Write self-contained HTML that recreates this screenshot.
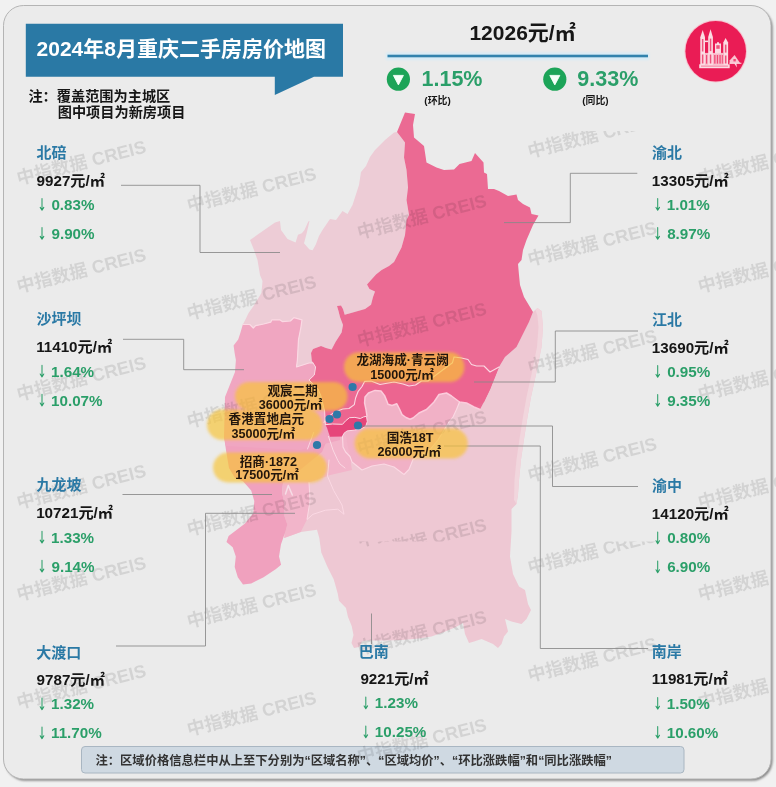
<!DOCTYPE html>
<html lang="zh-CN"><head><meta charset="utf-8"><title>2024年8月重庆二手房房价地图</title>
<style>
html,body{margin:0;padding:0;background:#f1f1f1}
body{width:776px;height:787px;overflow:hidden;position:relative;font-family:"Liberation Sans",sans-serif}
svg{position:absolute;left:0;top:0;display:block}
svg text{font-family:"Liberation Sans","Noto Sans CJK SC",sans-serif;font-weight:bold}
#tx span{position:absolute;white-space:nowrap;line-height:1.2;font-weight:bold;color:transparent;font-family:"Liberation Sans","Noto Sans CJK SC",sans-serif}
</style></head><body>
<svg width="776" height="787" viewBox="0 0 776 787">
<defs>
<filter id="soft" x="-10%" y="-20%" width="120%" height="140%"><feGaussianBlur stdDeviation="1.6"/></filter>
<filter id="sh" x="-5%" y="-5%" width="110%" height="110%"><feGaussianBlur stdDeviation="0.9"/></filter>
<filter id="glow" x="-5%" y="-300%" width="110%" height="700%"><feGaussianBlur stdDeviation="1.3"/></filter>
<filter id="ba" x="0" y="0" width="776" height="787" filterUnits="userSpaceOnUse"><feGaussianBlur stdDeviation="0.45"/></filter>
<clipPath id="cu"><rect x="0" y="131" width="776" height="410.5"/></clipPath>
<clipPath id="cl"><rect x="0" y="541.5" width="776" height="237"/></clipPath>
<clipPath id="card"><rect x="3.5" y="5.5" width="767.5" height="773.5" rx="20"/></clipPath>
<g id="wm" transform="rotate(-14.3) translate(-63.78,6.52)"><text x="0" y="0" font-size="18.1">中指数据 CREIS</text></g>
</defs>
<rect width="776" height="787" fill="#f1f1f1"/>
<g filter="url(#ba)">
<rect x="5" y="7.2" width="767.6" height="773.6" rx="20.5" fill="#868686" filter="url(#sh)"/>
<rect x="3.5" y="5.5" width="767.5" height="773.5" rx="20" fill="#ebebeb" stroke="#b4b4b4" stroke-width="1"/>
<path d="M25.8,23.8 H343 V76.8 H314 L274.8,95 V76.8 H25.8 Z" fill="#2b79a5"/>
<rect x="386" y="52.5" width="263" height="7.5" fill="#d6ecf7" filter="url(#glow)"/>
<rect x="387.5" y="54.7" width="260.5" height="2.6" fill="#3383ad"/>
<circle cx="398.4" cy="79.2" r="11.6" fill="#1fa458"/>
<path d="M393.4,75.4 H403.4 L398.4,84.9 Z" fill="#f4fff8" stroke="#f4fff8" stroke-width="0.9" stroke-linejoin="round"/>
<circle cx="554.8" cy="79.2" r="11.6" fill="#1fa458"/>
<path d="M549.8,75.4 H559.8 L554.8,84.9 Z" fill="#f4fff8" stroke="#f4fff8" stroke-width="0.9" stroke-linejoin="round"/>
<g>
<circle cx="715.7" cy="51.2" r="31.3" fill="#f6c3d0"/>
<circle cx="715.7" cy="51.2" r="30.3" fill="#ea1f55"/>
<g fill="#fcdbe3">
<path d="M702.7,30 L705,37.3 V65.8 H700.3 V37.3 Z"/>
<path d="M710.5,29.3 L712.9,37 V65.8 H708.2 V37 Z"/>
<path d="M725.6,38 L728.1,42.6 V65.8 H723.3 V42.6 Z"/>
<rect x="705" y="40.6" width="3.2" height="1.5"/>
<path d="M715,43.5 H717 V42.3 H719 V43.5 H721 V53.5 H715 Z"/>
<rect x="705" y="52.9" width="18.3" height="11.8" fill-opacity="0.82"/>
<rect x="699.2" y="64.3" width="30.5" height="3.9"/>
<path d="M734.6,55 L740.4,63.4 H729.6 V60.6 Z" fill-opacity="0.88"/>
<path d="M729.4,62.7 H741.4 V63.7 H736.4 L737,67.6 L734.4,63.7 H729.4 Z"/>
</g>
<g fill="#ea1f55" fill-opacity="0.72">
<rect x="701.9" y="39" width="1.5" height="12.5"/><rect x="709.8" y="38.6" width="1.5" height="12.5"/>
<rect x="701.9" y="54.5" width="1.5" height="9"/><rect x="709.8" y="54.5" width="1.5" height="9"/>
<rect x="716.3" y="45.2" width="3.4" height="3.6"/>
<rect x="724.9" y="44.6" width="1.6" height="8"/><rect x="724.9" y="55.5" width="1.6" height="8"/>
<rect x="706" y="55" width="1.2" height="8.6"/><rect x="714.2" y="55" width="1.3" height="8.6"/>
<rect x="716.8" y="55" width="1.3" height="8.6"/><rect x="719.4" y="55" width="1.3" height="8.6"/><rect x="721.8" y="55" width="1" height="8.6"/>
<rect x="733.4" y="59" width="2.4" height="2.4"/>
<rect x="701" y="65.6" width="27" height="1" fill-opacity="0.5"/>
</g>
</g>
<g>
<path d="M480.0,409.5 L484.0,402.0 L490.0,389.5 L494.0,379.5 L499.0,367.0 L505.0,357.0 L516.5,347.0 L521.5,337.0 L529.0,322.0 L533.0,312.0 L537.5,308.0 L541.5,311.0 L543.0,327.0 L541.5,347.0 L536.5,372.0 L531.0,397.0 L527.5,417.0 L524.3,437.0 L521.0,459.5 L519.0,480.0 L518.0,494.0 L516.5,504.0 L511.5,509.0 L511.5,531.5 L510.0,556.5 L513.0,574.0 L519.0,586.5 L525.0,590.0 L528.0,604.0 L531.0,610.0 L526.5,619.0 L521.5,624.0 L511.5,621.5 L505.0,619.0 L508.0,631.5 L504.0,636.5 L501.5,644.0 L498.0,648.0 L493.0,644.0 L481.5,639.0 L474.0,641.5 L469.0,643.0 L465.0,634.0 L463.0,623.0 L456.0,627.0 L444.0,632.0 L431.5,636.5 L419.0,638.5 L402.0,640.0 L384.0,640.5 L366.0,640.5 L362.0,641.5 L359.0,647.0 L354.0,648.0 L351.5,643.0 L353.5,635.0 L351.7,626.0 L348.0,617.0 L346.0,608.0 L339.0,600.8 L337.8,593.7 L333.7,579.3 L327.5,567.0 L321.3,552.5 L319.3,538.0 L317.0,529.8 L300.7,531.9 L284.2,538.0 L283.0,483.0 L300.0,470.0 L329.0,460.0 L340.0,436.0 L367.0,416.0 L440.0,390.0 L476.0,402.0Z" fill="#eec8d3"/>
<path d="M535.5,310.0 L537.5,308.0 L541.5,311.0 L543.0,327.0 L541.5,347.0 L536.5,372.0 L531.0,397.0 L527.5,417.0 L524.3,437.0 L521.0,459.5 L519.0,480.0 L518.0,494.0 L516.5,504.0 L514.0,500.0 L514.5,480.0 L516.5,459.5 L519.8,437.0 L523.0,417.0 L526.5,397.0 L532.0,372.0 L537.0,347.0 L538.5,327.0 L537.5,316.0Z" fill="#f1d6dd"/>
<path d="M327.0,428.0 L367.0,414.0 L364.6,403.0 L365.0,397.0 L368.5,393.0 L375.0,390.4 L381.0,391.0 L384.6,395.6 L387.2,402.0 L388.0,404.3 L392.0,405.5 L396.8,403.8 L399.5,409.0 L402.0,414.6 L406.0,417.5 L410.0,419.2 L413.0,418.0 L419.0,413.0 L426.5,409.5 L434.0,402.0 L439.0,394.5 L446.5,393.0 L451.5,396.0 L459.5,402.0 L456.5,409.5 L453.0,417.0 L449.0,422.0 L444.0,430.0 L438.0,440.0 L428.0,452.0 L413.0,459.5 L409.0,469.5 L404.0,474.5 L394.0,467.0 L384.0,464.0 L372.0,466.0 L362.0,470.0 L352.0,462.0 L350.0,456.5 L345.6,452.0 L343.0,447.0 L342.5,436.4 L330.0,436.7Z" fill="#f1b1c6"/>
<path d="M300.0,430.0 L345.0,430.0 L352.0,470.0 L283.0,486.0Z" fill="#f2b5ca"/>
<path d="M328.5,436.4 L342.5,436.4 L343.0,447.0 L345.6,452.0 L350.0,456.5 L352.0,462.0 L345.0,468.0 L340.0,464.0 L337.8,460.4 L333.0,450.0Z" fill="#f2b5ca"/>
<path d="M283.0,483.0 L296.0,470.0 L309.0,452.0 L320.0,448.0 L329.0,460.0 L327.5,476.0 L309.0,482.4 L310.0,501.0 L307.0,519.5 L300.7,531.9 L284.2,538.0 L285.3,531.9 L287.3,524.6 L284.2,515.4 L284.2,503.0 L282.2,492.7Z" fill="#f2b5ca"/>
<path d="M224.0,437.0 L300.0,430.0 L328.5,436.5 L322.0,452.0 L300.0,470.0 L283.0,483.0 L282.2,492.7 L284.2,503.0 L284.2,515.4 L287.3,524.6 L285.3,531.9 L281.0,544.2 L279.0,556.6 L281.1,564.8 L276.0,569.0 L263.6,577.2 L251.2,583.4 L243.0,584.4 L237.8,577.2 L234.7,567.0 L235.8,556.6 L232.7,547.3 L226.5,542.0 L228.6,536.0 L245.0,523.6 L253.3,513.3 L254.3,501.0 L251.2,490.6 L243.0,481.3 L235.0,478.0 L229.0,468.0 L226.0,450.0Z" fill="#f0a1be"/>
<path d="M242.8,324.5 L249.8,324.5 L253.3,328.0 L255.6,325.7 L263.7,324.0 L270.7,322.2 L271.8,319.9 L280.0,319.9 L282.3,321.6 L290.4,321.0 L293.9,317.6 L302.0,319.9 L300.8,328.0 L298.5,339.6 L297.4,360.0 L296.5,367.0 L309.0,363.0 L313.0,363.0 L340.0,390.0 L340.0,440.0 L300.0,450.0 L226.0,446.0 L224.0,437.0 L225.0,397.0 L230.0,384.5 L235.0,372.0 L235.9,360.0 L234.7,353.5 L233.6,345.4 L238.2,339.6 L240.5,332.6Z" fill="#f0a6c1"/>
<path d="M397.0,132.0 L394.0,132.5 L385.0,140.0 L375.0,150.0 L370.0,157.0 L366.0,166.0 L361.0,172.0 L359.0,185.0 L352.5,205.0 L347.5,214.0 L342.5,211.0 L336.0,220.0 L330.0,219.0 L322.5,230.0 L319.0,236.0 L315.7,244.8 L312.6,250.2 L309.5,249.5 L304.0,243.3 L306.5,234.0 L309.5,221.0 L308.3,221.5 L304.5,230.0 L301.8,233.2 L298.0,234.8 L295.6,242.5 L287.5,239.0 L281.0,230.0 L280.0,221.0 L275.0,222.5 L250.0,240.0 L254.0,250.0 L257.5,260.0 L260.0,275.0 L262.5,281.0 L261.4,293.0 L254.4,304.8 L248.6,313.0 L245.2,320.0 L242.8,324.5 L249.8,324.5 L253.3,328.0 L255.6,325.7 L263.7,324.0 L270.7,322.2 L271.8,319.9 L280.0,319.9 L282.3,321.6 L290.4,321.0 L293.9,317.6 L302.0,319.9 L300.8,328.0 L298.5,339.6 L297.4,360.0 L296.5,367.0 L309.0,363.0 L313.0,363.0 L311.8,360.8 L311.0,353.0 L313.0,349.0 L321.0,346.0 L326.0,348.0 L331.6,349.5 L335.5,342.0 L341.6,332.5 L343.0,325.0 L340.0,317.0 L338.5,311.0 L337.0,306.0 L341.0,305.5 L343.0,309.0 L344.7,314.8 L351.0,313.0 L365.0,309.0 L371.0,304.7 L373.0,297.0 L375.0,291.6 L369.5,289.0 L367.0,284.6 L371.0,280.0 L376.0,274.5 L381.6,270.0 L389.0,266.0 L394.0,262.0 L401.5,247.5 L405.0,235.0 L406.5,220.0 L409.0,215.0 L406.5,200.0 L408.0,187.5 L406.5,170.0 L404.0,157.5 L405.0,142.5 L397.0,132.0Z" fill="#edccd6"/>
<path d="M397.0,132.0 L405.0,112.5 L415.0,114.0 L413.0,125.0 L414.0,137.5 L424.0,146.0 L426.5,162.5 L436.5,167.5 L444.0,170.0 L454.0,169.5 L459.5,164.0 L471.5,161.0 L475.0,153.0 L483.5,162.5 L484.0,172.5 L487.0,174.0 L488.0,189.0 L494.0,189.0 L499.0,191.0 L508.0,196.0 L516.5,194.5 L518.0,200.0 L523.0,204.0 L530.0,207.5 L531.5,214.0 L538.5,215.5 L533.0,225.0 L526.5,240.0 L523.0,250.0 L521.5,260.0 L518.0,264.0 L519.0,275.0 L520.0,285.0 L524.0,297.0 L530.0,307.0 L533.0,312.0 L529.0,322.0 L521.5,337.0 L516.5,347.0 L505.0,357.0 L499.0,367.0 L494.0,379.5 L490.0,389.5 L484.0,402.0 L480.0,409.5 L474.0,407.0 L466.5,403.0 L459.5,402.0 L451.5,396.0 L446.5,393.0 L439.0,394.5 L434.0,402.0 L426.5,409.5 L419.0,413.0 L413.0,418.0 L410.0,419.2 L406.0,417.5 L402.0,414.6 L399.5,409.0 L396.8,403.8 L392.0,405.5 L388.0,404.3 L387.2,402.0 L384.6,395.6 L381.0,391.0 L375.0,390.4 L368.5,393.0 L365.0,397.0 L364.6,403.0 L366.0,409.7 L367.0,416.0 L363.4,417.0 L360.3,418.5 L354.9,417.4 L349.5,417.7 L345.6,420.8 L342.5,424.3 L332.4,424.0 L325.4,424.7 L324.6,411.0 L320.8,395.6 L318.0,389.0 L309.0,380.0 L314.3,375.0 L315.6,367.0 L311.8,360.8 L311.0,353.0 L313.0,349.0 L321.0,346.0 L326.0,348.0 L331.6,349.5 L335.5,342.0 L341.6,332.5 L343.0,325.0 L340.0,317.0 L338.5,311.0 L337.0,306.0 L341.0,305.5 L343.0,309.0 L344.7,314.8 L351.0,313.0 L365.0,309.0 L371.0,304.7 L373.0,297.0 L375.0,291.6 L369.5,289.0 L367.0,284.6 L371.0,280.0 L376.0,274.5 L381.6,270.0 L389.0,266.0 L394.0,262.0 L401.5,247.5 L405.0,235.0 L406.5,220.0 L409.0,215.0 L406.5,200.0 L408.0,187.5 L406.5,170.0 L404.0,157.5 L405.0,142.5 L397.0,132.0Z" fill="#eb6a93"/>
<path d="M499.0,367.0 L490.0,372.0 L484.0,366.0 L476.5,366.0 L471.5,364.5 L468.0,359.5 L461.5,358.0 L454.0,357.0 L452.5,362.7 L440.0,372.0 L428.0,381.0 L421.5,381.0 L415.5,385.0 L409.0,386.0 L403.0,384.0 L394.0,382.0 L380.0,384.5 L371.0,381.0 L364.6,381.4 L362.0,386.5 L358.0,391.7 L355.6,398.0 L354.3,404.6 L349.0,408.5 L342.7,409.0 L337.5,411.0 L332.4,413.6 L326.0,418.8 L325.4,424.7 L332.4,424.0 L342.5,424.3 L345.6,420.8 L349.5,417.7 L354.9,417.4 L360.3,418.5 L363.4,417.0 L367.0,416.0 L366.0,409.7 L364.6,403.0 L365.0,397.0 L368.5,393.0 L375.0,390.4 L381.0,391.0 L384.6,395.6 L387.2,402.0 L388.0,404.3 L392.0,405.5 L396.8,403.8 L399.5,409.0 L402.0,414.6 L406.0,417.5 L410.0,419.2 L413.0,418.0 L419.0,413.0 L426.5,409.5 L434.0,402.0 L439.0,394.5 L446.5,393.0 L451.5,396.0 L459.5,402.0 L466.5,403.0 L474.0,407.0 L484.0,402.0 L490.0,389.5 L494.0,379.5Z" fill="#ec6590"/>
<path d="M325.4,424.7 L332.4,424.0 L342.5,424.3 L345.6,420.8 L349.5,417.7 L354.9,417.4 L360.3,418.5 L363.4,417.0 L366.5,416.2 L367.3,421.6 L365.7,426.3 L361.9,428.6 L354.1,430.2 L347.1,430.9 L344.0,433.3 L342.5,436.4 L330.0,436.7 L328.5,432.5 L327.0,427.8Z" fill="#e6447a"/>
<path d="M499.0,367.0 L490.0,372.0 L484.0,366.0 L476.5,366.0 L471.5,364.5 L468.0,359.5 L461.5,358.0 L454.0,357.0 L452.5,362.7 L440.0,372.0 L428.0,381.0 L421.5,381.0 L415.5,385.0 L409.0,386.0 L403.0,384.0 L394.0,382.0 L380.0,384.5 L371.0,381.0 L364.6,381.4 L362.0,386.5 L358.0,391.7 L355.6,398.0 L354.3,404.6 L349.0,408.5 L342.7,409.0 L337.5,411.0 L332.4,413.6 L326.0,418.8 L324.0,422.6" fill="none" stroke="#fbd9e4" stroke-width="1.1" stroke-linejoin="round" stroke-linecap="round"/>
<path d="M325.4,424.7 L332.4,424.0 L342.5,424.3 L345.6,420.8 L349.5,417.7 L354.9,417.4 L360.3,418.5 L363.4,417.0 L366.5,416.2 L367.3,421.6 L365.7,426.3 L361.9,428.6 L354.1,430.2 L347.1,430.9 L344.0,433.3 L342.5,436.4" fill="none" stroke="#fbd9e4" stroke-width="1.0" stroke-linejoin="round" stroke-linecap="round"/>
<path d="M480.0,409.5 L474.0,407.0 L466.5,403.0 L459.5,402.0 L451.5,396.0 L446.5,393.0 L439.0,394.5 L434.0,402.0 L426.5,409.5 L419.0,413.0 L413.0,418.0 L410.0,419.2 L406.0,417.5 L402.0,414.6 L399.5,409.0 L396.8,403.8 L392.0,405.5 L388.0,404.3 L387.2,402.0 L384.6,395.6 L381.0,391.0 L375.0,390.4 L368.5,393.0 L365.0,397.0 L364.6,403.0 L366.0,409.7 L367.0,416.0" fill="none" stroke="#fcccdc" stroke-width="1.5" stroke-linejoin="round" stroke-linecap="round"/>
<path d="M459.5,402.0 L456.5,409.5 L453.0,417.0 L449.0,422.0 L444.0,430.0 L438.0,440.0 L428.0,452.0 L413.0,459.5 L409.0,469.5 L404.0,474.5 L394.0,467.0 L384.0,464.0 L372.0,466.0 L362.0,470.0 L352.0,462.0 L350.0,456.5 L345.6,452.0 L343.0,447.0 L342.5,436.4" fill="none" stroke="#fbd9e4" stroke-width="1.1" stroke-linejoin="round" stroke-linecap="round"/>
<path d="M328.5,436.4 L333.0,450.0 L337.8,460.4 L340.0,464.0 L345.0,468.0" fill="none" stroke="#fbd9e4" stroke-width="1.0" stroke-linejoin="round" stroke-linecap="round"/>
<path d="M242.8,324.5 L249.8,324.5 L253.3,328.0 L255.6,325.7 L263.7,324.0 L270.7,322.2 L271.8,319.9 L280.0,319.9 L282.3,321.6 L290.4,321.0 L293.9,317.6 L302.0,319.9 L300.8,328.0 L298.5,339.6 L297.4,360.0 L296.5,367.0 L309.0,363.0 L313.0,363.0" fill="none" stroke="#fbd9e4" stroke-width="1.2" stroke-linejoin="round" stroke-linecap="round"/>
<path d="M313.0,363.0 L315.6,367.0 L314.3,375.0 L309.0,380.0 L318.0,389.0 L320.8,395.6 L324.6,411.0 L325.4,424.7" fill="none" stroke="#fbd9e4" stroke-width="1.0" stroke-linejoin="round" stroke-linecap="round"/>
<path d="M309.0,482.4 L310.0,501.0 L307.0,519.5 L313.0,514.3 L325.5,510.2 L337.8,509.2 L344.0,514.3 L342.0,505.0 L333.7,490.6 L327.5,476.2 L329.0,460.0" fill="none" stroke="#fbd9e4" stroke-width="1.0" stroke-linejoin="round" stroke-linecap="round"/>
<path d="M307.5,449.0 L313.7,432.4" fill="none" stroke="#fbd9e4" stroke-width="0.9" stroke-linejoin="round" stroke-linecap="round"/>
<path d="M285.5,494.0 L288.3,485.5 L292.3,495.0" fill="none" stroke="#f6dde6" stroke-width="1.5" stroke-linejoin="round" stroke-linecap="round"/>
</g>
<rect x="81.5" y="746.5" width="602.5" height="26.5" rx="3.5" fill="#cfd9e2" stroke="#a9b6c2" stroke-width="1"/>
<g fill="#000" fill-opacity="0.1"><g clip-path="url(#cu)"><use href="#wm" x="78.7" y="163.0"/><use href="#wm" x="78.7" y="271.0"/><use href="#wm" x="78.7" y="379.0"/><use href="#wm" x="78.7" y="487.0"/><use href="#wm" x="249.0" y="190.0"/><use href="#wm" x="249.0" y="298.0"/><use href="#wm" x="249.0" y="406.0"/><use href="#wm" x="249.0" y="514.0"/><use href="#wm" x="419.3" y="217.0"/><use href="#wm" x="419.3" y="325.0"/><use href="#wm" x="419.3" y="433.0"/><use href="#wm" x="419.3" y="541.0"/><use href="#wm" x="589.6" y="136.0"/><use href="#wm" x="589.6" y="244.0"/><use href="#wm" x="589.6" y="352.0"/><use href="#wm" x="589.6" y="460.0"/><use href="#wm" x="589.6" y="568.0"/><use href="#wm" x="759.9" y="163.0"/><use href="#wm" x="759.9" y="271.0"/><use href="#wm" x="759.9" y="379.0"/><use href="#wm" x="759.9" y="487.0"/></g><g clip-path="url(#cl)"><g clip-path="url(#card)"><use href="#wm" x="78.7" y="579.0"/><use href="#wm" x="78.7" y="687.0"/><use href="#wm" x="249.0" y="606.0"/><use href="#wm" x="249.0" y="714.0"/><use href="#wm" x="419.3" y="525.0"/><use href="#wm" x="419.3" y="633.0"/><use href="#wm" x="419.3" y="741.0"/><use href="#wm" x="589.6" y="552.0"/><use href="#wm" x="589.6" y="660.0"/><use href="#wm" x="759.9" y="579.0"/><use href="#wm" x="759.9" y="687.0"/></g></g></g>
<path d="M121.0,185.3 L200.0,185.3 L200.0,252.5 L280.0,252.5" fill="none" stroke="#888888" stroke-width="0.85"/>
<path d="M123.0,339.3 L183.7,339.3 L183.7,369.7 L244.0,369.7" fill="none" stroke="#888888" stroke-width="0.85"/>
<path d="M122.5,494.5 L272.0,494.5" fill="none" stroke="#888888" stroke-width="0.85"/>
<path d="M116.0,646.0 L205.5,646.0 L205.5,513.3 L295.0,513.3" fill="none" stroke="#888888" stroke-width="0.85"/>
<path d="M504.0,222.6 L570.3,222.6 L570.3,173.3 L637.3,173.3" fill="none" stroke="#888888" stroke-width="0.85"/>
<path d="M474.0,382.0 L555.3,382.0 L555.3,331.0 L638.0,331.0" fill="none" stroke="#888888" stroke-width="0.85"/>
<path d="M358.0,426.0 L552.5,426.0 L552.5,486.5 L638.0,486.5" fill="none" stroke="#888888" stroke-width="0.85"/>
<path d="M444.0,446.0 L540.3,446.0 L540.3,648.5 L648.0,648.5" fill="none" stroke="#888888" stroke-width="0.85"/>
<path d="M371.5,613.5 L371.5,644.0" fill="none" stroke="#888888" stroke-width="0.85"/>
<rect x="235.0" y="382.0" width="112.5" height="28.5" rx="14.2" fill="#f8c435" fill-opacity="0.67" filter="url(#soft)"/>
<rect x="207.0" y="409.5" width="115.5" height="30.5" rx="15.2" fill="#f8c435" fill-opacity="0.67" filter="url(#soft)"/>
<rect x="213.0" y="452.5" width="114.0" height="30.0" rx="15.0" fill="#f8c435" fill-opacity="0.67" filter="url(#soft)"/>
<rect x="344.0" y="352.2" width="120.4" height="29.8" rx="14.9" fill="#f8c435" fill-opacity="0.67" filter="url(#soft)"/>
<rect x="354.6" y="428.3" width="113.2" height="30.2" rx="15.1" fill="#f8c435" fill-opacity="0.67" filter="url(#soft)"/>
<circle cx="352.6" cy="387.0" r="4.1" fill="#2f79a8"/>
<circle cx="337.0" cy="414.5" r="4.1" fill="#2f79a8"/>
<circle cx="329.5" cy="419.0" r="4.1" fill="#2f79a8"/>
<circle cx="358.0" cy="425.5" r="4.1" fill="#2f79a8"/>
<circle cx="317.0" cy="445.0" r="4.1" fill="#2f79a8"/>
<text x="36.59" y="56.30" font-size="21" fill="#ffffff">2024年8月重庆二手房房价地图</text>
<text x="28.39" y="100.80" font-size="14.2" fill="#141414">注：覆盖范围为主城区</text>
<text x="57.74" y="117.40" font-size="14.2" fill="#141414">图中项目为新房项目</text>
<text x="469.45" y="40.40" font-size="21" fill="#141414">12026元/㎡</text>
<text x="421.50" y="86.28" font-size="21.5" fill="#2c9f69">1.15%</text>
<text x="577.29" y="86.28" font-size="21.5" fill="#2c9f69">9.33%</text>
<text x="424.35" y="103.93" font-size="9.9" fill="#141414">(环比)</text>
<text x="582.34" y="103.93" font-size="9.9" fill="#141414">(同比)</text>
<text x="36.51" y="157.70" font-size="15" fill="#2b79a5">北碚</text>
<text x="36.59" y="185.63" font-size="15.2" fill="#141414">9927元/㎡</text>
<path d="M42.0,198.6 V210.1 M40.2,207.4 L42.0,210.3 L43.8,207.4" fill="none" stroke="#2c9f69" stroke-width="1.05" stroke-linecap="round" stroke-linejoin="round"/>
<text x="51.43" y="209.93" font-size="15.2" fill="#2c9f69">0.83%</text>
<path d="M42.0,227.6 V239.1 M40.2,236.4 L42.0,239.3 L43.8,236.4" fill="none" stroke="#2c9f69" stroke-width="1.05" stroke-linecap="round" stroke-linejoin="round"/>
<text x="51.49" y="238.93" font-size="15.2" fill="#2c9f69">9.90%</text>
<text x="36.45" y="324.30" font-size="15" fill="#2b79a5">沙坪坝</text>
<text x="36.16" y="352.23" font-size="15.2" fill="#141414">11410元/㎡</text>
<path d="M42.0,365.2 V376.7 M40.2,374.0 L42.0,376.9 L43.8,374.0" fill="none" stroke="#2c9f69" stroke-width="1.05" stroke-linecap="round" stroke-linejoin="round"/>
<text x="51.06" y="376.53" font-size="15.2" fill="#2c9f69">1.64%</text>
<path d="M42.0,394.2 V405.7 M40.2,403.0 L42.0,405.9 L43.8,403.0" fill="none" stroke="#2c9f69" stroke-width="1.05" stroke-linecap="round" stroke-linejoin="round"/>
<text x="51.06" y="405.53" font-size="15.2" fill="#2c9f69">10.07%</text>
<text x="36.48" y="490.40" font-size="15" fill="#2b79a5">九龙坡</text>
<text x="36.16" y="518.33" font-size="15.2" fill="#141414">10721元/㎡</text>
<path d="M42.0,531.3 V542.8 M40.2,540.1 L42.0,543.0 L43.8,540.1" fill="none" stroke="#2c9f69" stroke-width="1.05" stroke-linecap="round" stroke-linejoin="round"/>
<text x="51.06" y="542.63" font-size="15.2" fill="#2c9f69">1.33%</text>
<path d="M42.0,560.3 V571.8 M40.2,569.1 L42.0,572.0 L43.8,569.1" fill="none" stroke="#2c9f69" stroke-width="1.05" stroke-linecap="round" stroke-linejoin="round"/>
<text x="51.49" y="571.63" font-size="15.2" fill="#2c9f69">9.14%</text>
<text x="36.24" y="657.50" font-size="15" fill="#2b79a5">大渡口</text>
<text x="36.59" y="684.73" font-size="15.2" fill="#141414">9787元/㎡</text>
<path d="M42.0,697.9 V709.4 M40.2,706.7 L42.0,709.6 L43.8,706.7" fill="none" stroke="#2c9f69" stroke-width="1.05" stroke-linecap="round" stroke-linejoin="round"/>
<text x="51.06" y="709.23" font-size="15.2" fill="#2c9f69">1.32%</text>
<path d="M42.0,726.9 V738.4 M40.2,735.7 L42.0,738.6 L43.8,735.7" fill="none" stroke="#2c9f69" stroke-width="1.05" stroke-linecap="round" stroke-linejoin="round"/>
<text x="51.06" y="738.23" font-size="15.2" fill="#2c9f69">11.70%</text>
<text x="652.09" y="157.70" font-size="15" fill="#2b79a5">渝北</text>
<text x="651.86" y="185.63" font-size="15.2" fill="#141414">13305元/㎡</text>
<path d="M657.7,198.6 V210.1 M656.0,207.4 L657.7,210.3 L659.5,207.4" fill="none" stroke="#2c9f69" stroke-width="1.05" stroke-linecap="round" stroke-linejoin="round"/>
<text x="666.76" y="209.93" font-size="15.2" fill="#2c9f69">1.01%</text>
<path d="M657.7,227.6 V239.1 M656.0,236.4 L657.7,239.3 L659.5,236.4" fill="none" stroke="#2c9f69" stroke-width="1.05" stroke-linecap="round" stroke-linejoin="round"/>
<text x="667.15" y="238.93" font-size="15.2" fill="#2c9f69">8.97%</text>
<text x="651.99" y="324.70" font-size="15" fill="#2b79a5">江北</text>
<text x="651.86" y="352.63" font-size="15.2" fill="#141414">13690元/㎡</text>
<path d="M657.7,365.6 V377.1 M656.0,374.4 L657.7,377.3 L659.5,374.4" fill="none" stroke="#2c9f69" stroke-width="1.05" stroke-linecap="round" stroke-linejoin="round"/>
<text x="667.13" y="376.93" font-size="15.2" fill="#2c9f69">0.95%</text>
<path d="M657.7,394.6 V406.1 M656.0,403.4 L657.7,406.3 L659.5,403.4" fill="none" stroke="#2c9f69" stroke-width="1.05" stroke-linecap="round" stroke-linejoin="round"/>
<text x="667.19" y="405.93" font-size="15.2" fill="#2c9f69">9.35%</text>
<text x="652.08" y="491.10" font-size="15" fill="#2b79a5">渝中</text>
<text x="651.86" y="519.03" font-size="15.2" fill="#141414">14120元/㎡</text>
<path d="M657.7,532.0 V543.5 M656.0,540.8 L657.7,543.7 L659.5,540.8" fill="none" stroke="#2c9f69" stroke-width="1.05" stroke-linecap="round" stroke-linejoin="round"/>
<text x="667.13" y="543.33" font-size="15.2" fill="#2c9f69">0.80%</text>
<path d="M657.7,561.0 V572.5 M656.0,569.8 L657.7,572.7 L659.5,569.8" fill="none" stroke="#2c9f69" stroke-width="1.05" stroke-linecap="round" stroke-linejoin="round"/>
<text x="667.15" y="572.33" font-size="15.2" fill="#2c9f69">6.90%</text>
<text x="651.66" y="657.00" font-size="15" fill="#2b79a5">南岸</text>
<text x="651.86" y="684.23" font-size="15.2" fill="#141414">11981元/㎡</text>
<path d="M657.7,697.4 V708.9 M656.0,706.2 L657.7,709.1 L659.5,706.2" fill="none" stroke="#2c9f69" stroke-width="1.05" stroke-linecap="round" stroke-linejoin="round"/>
<text x="666.76" y="708.73" font-size="15.2" fill="#2c9f69">1.50%</text>
<path d="M657.7,726.4 V737.9 M656.0,735.2 L657.7,738.1 L659.5,735.2" fill="none" stroke="#2c9f69" stroke-width="1.05" stroke-linecap="round" stroke-linejoin="round"/>
<text x="666.76" y="737.73" font-size="15.2" fill="#2c9f69">10.60%</text>
<text x="358.79" y="656.70" font-size="15" fill="#2b79a5">巴南</text>
<text x="360.39" y="683.93" font-size="15.2" fill="#141414">9221元/㎡</text>
<path d="M365.8,697.1 V708.6 M364.1,705.9 L365.8,708.8 L367.6,705.9" fill="none" stroke="#2c9f69" stroke-width="1.05" stroke-linecap="round" stroke-linejoin="round"/>
<text x="374.86" y="708.43" font-size="15.2" fill="#2c9f69">1.23%</text>
<path d="M365.8,726.1 V737.6 M364.1,734.9 L365.8,737.8 L367.6,734.9" fill="none" stroke="#2c9f69" stroke-width="1.05" stroke-linecap="round" stroke-linejoin="round"/>
<text x="374.86" y="737.43" font-size="15.2" fill="#2c9f69">10.25%</text>
<text x="267.48" y="394.79" font-size="12.6" fill="#24170c">观宸二期</text>
<text x="258.70" y="408.80" font-size="12.6" fill="#24170c">36000元/㎡</text>
<text x="228.60" y="423.49" font-size="12.6" fill="#24170c">香港置地启元</text>
<text x="231.49" y="437.70" font-size="12.6" fill="#24170c">35000元/㎡</text>
<text x="239.73" y="465.70" font-size="12.6" fill="#24170c">招商·1872</text>
<text x="235.20" y="479.20" font-size="12.6" fill="#24170c">17500元/㎡</text>
<text x="356.39" y="364.09" font-size="12.6" fill="#24170c">龙湖海成·青云阙</text>
<text x="370.15" y="378.80" font-size="12.6" fill="#24170c">15000元/㎡</text>
<text x="386.63" y="441.50" font-size="12.6" fill="#24170c">国浩18T</text>
<text x="377.50" y="455.80" font-size="12.6" fill="#24170c">26000元/㎡</text>
<text x="95.46" y="764.67" font-size="12.3" fill="#333333">注：区域价格信息栏中从上至下分别为“区域名称”、“区域均价”、“环比涨跌幅”和“同比涨跌幅”</text>
</g>
</svg>
<div id="tx"><span style="left:37.4px;top:36.2px;font-size:21.0px">2024年8月重庆二手房房价地图</span><span style="left:28.9px;top:86.9px;font-size:14.2px">注：覆盖范围为主城区</span><span style="left:58.8px;top:103.5px;font-size:14.2px">图中项目为新房项目</span><span style="left:470.8px;top:20.3px;font-size:21.0px">12026元/㎡</span><span style="left:422.8px;top:65.7px;font-size:21.5px">1.15%</span><span style="left:578.0px;top:65.7px;font-size:21.5px">9.33%</span><span style="left:424.8px;top:94.5px;font-size:9.9px">(环比)</span><span style="left:582.8px;top:94.5px;font-size:9.9px">(同比)</span><span style="left:36.8px;top:143.0px;font-size:15.0px">北碚</span><span style="left:37.1px;top:171.1px;font-size:15.2px">9927元/㎡</span><span style="left:38.8px;top:195.4px;font-size:15.2px">↓ 0.83%</span><span style="left:38.8px;top:224.4px;font-size:15.2px">↓ 9.90%</span><span style="left:36.8px;top:309.6px;font-size:15.0px">沙坪坝</span><span style="left:37.1px;top:337.7px;font-size:15.2px">11410元/㎡</span><span style="left:38.8px;top:362.0px;font-size:15.2px">↓ 1.64%</span><span style="left:38.8px;top:391.0px;font-size:15.2px">↓ 10.07%</span><span style="left:36.8px;top:475.7px;font-size:15.0px">九龙坡</span><span style="left:37.1px;top:503.8px;font-size:15.2px">10721元/㎡</span><span style="left:38.8px;top:528.1px;font-size:15.2px">↓ 1.33%</span><span style="left:38.8px;top:557.1px;font-size:15.2px">↓ 9.14%</span><span style="left:36.8px;top:642.8px;font-size:15.0px">大渡口</span><span style="left:37.1px;top:670.2px;font-size:15.2px">9787元/㎡</span><span style="left:38.8px;top:694.7px;font-size:15.2px">↓ 1.32%</span><span style="left:38.8px;top:723.7px;font-size:15.2px">↓ 11.70%</span><span style="left:652.5px;top:143.0px;font-size:15.0px">渝北</span><span style="left:652.8px;top:171.1px;font-size:15.2px">13305元/㎡</span><span style="left:654.5px;top:195.4px;font-size:15.2px">↓ 1.01%</span><span style="left:654.5px;top:224.4px;font-size:15.2px">↓ 8.97%</span><span style="left:652.5px;top:310.0px;font-size:15.0px">江北</span><span style="left:652.8px;top:338.1px;font-size:15.2px">13690元/㎡</span><span style="left:654.5px;top:362.4px;font-size:15.2px">↓ 0.95%</span><span style="left:654.5px;top:391.4px;font-size:15.2px">↓ 9.35%</span><span style="left:652.5px;top:476.4px;font-size:15.0px">渝中</span><span style="left:652.8px;top:504.5px;font-size:15.2px">14120元/㎡</span><span style="left:654.5px;top:528.8px;font-size:15.2px">↓ 0.80%</span><span style="left:654.5px;top:557.8px;font-size:15.2px">↓ 6.90%</span><span style="left:652.5px;top:642.3px;font-size:15.0px">南岸</span><span style="left:652.8px;top:669.7px;font-size:15.2px">11981元/㎡</span><span style="left:654.5px;top:694.2px;font-size:15.2px">↓ 1.50%</span><span style="left:654.5px;top:723.2px;font-size:15.2px">↓ 10.60%</span><span style="left:360.6px;top:642.0px;font-size:15.0px">巴南</span><span style="left:360.9px;top:669.4px;font-size:15.2px">9221元/㎡</span><span style="left:362.6px;top:693.9px;font-size:15.2px">↓ 1.23%</span><span style="left:362.6px;top:722.9px;font-size:15.2px">↓ 10.25%</span><span style="left:267.7px;top:382.4px;font-size:12.6px">观宸二期</span><span style="left:259.2px;top:396.7px;font-size:12.6px">36000元/㎡</span><span style="left:228.9px;top:411.1px;font-size:12.6px">香港置地启元</span><span style="left:232.0px;top:425.6px;font-size:12.6px">35000元/㎡</span><span style="left:240.0px;top:453.6px;font-size:12.6px">招商·1872</span><span style="left:236.0px;top:467.1px;font-size:12.6px">17500元/㎡</span><span style="left:356.7px;top:351.7px;font-size:12.6px">龙湖海成·青云阙</span><span style="left:370.9px;top:366.7px;font-size:12.6px">15000元/㎡</span><span style="left:387.6px;top:429.4px;font-size:12.6px">国浩18T</span><span style="left:378.0px;top:443.7px;font-size:12.6px">26000元/㎡</span><span style="left:95.9px;top:752.6px;font-size:12.3px">注：区域价格信息栏中从上至下分别为“区域名称”、“区域均价”、“环比涨跌幅”和“同比涨跌幅”</span></div>
</body></html>
